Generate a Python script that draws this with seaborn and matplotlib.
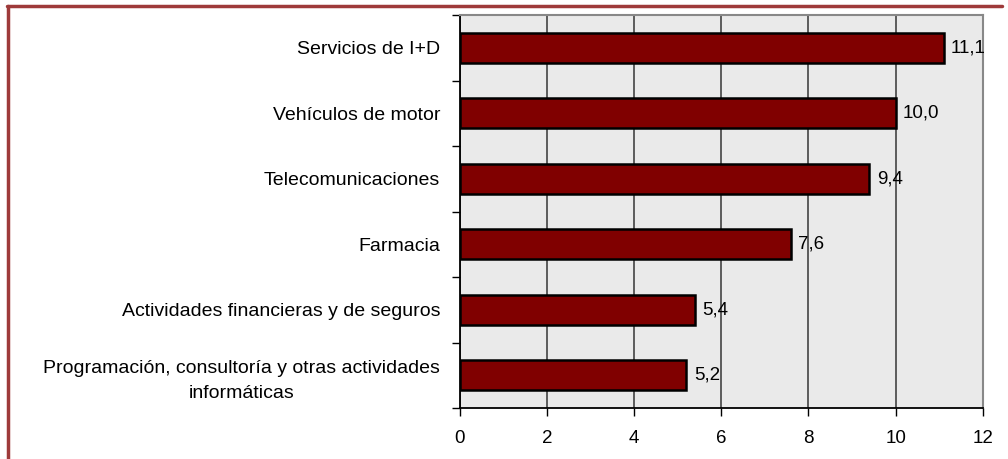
import matplotlib.pyplot as plt
import numpy as np
import pandas as pd
import seaborn as sns

sectores = ['Servicios de I+D',
            'Vehículos de motor',
            'Telecomunicaciones',
            'Farmacia',
            'Actividades financieras y de seguros',
            'Programación, consultoría y otras actividades\ninformáticas']
valores = [11.1, 10.0, 9.4, 7.6, 5.4, 5.2]
xticks = [0, 2, 4, 6, 8, 10, 12]

df = pd.DataFrame({'sector': sectores, 'valor': valores})

sns.set_theme(style='white')
plt.rcParams['font.family'] = ['Liberation Sans', 'DejaVu Sans']

fig = plt.figure(figsize=(10.08, 4.59), dpi=100)
ax = fig.add_axes([0.456, 0.111, 0.519, 0.856])
ax.set_facecolor('#eaeaea')

sns.barplot(data=df, x='valor', y='sector', orient='h', color='#800000',
            saturation=1, width=0.46, edgecolor='black', linewidth=1.8, ax=ax)

ax.set_xlim(0, 12)
ax.set_ylim(len(sectores) - 0.5, -0.5)
ax.set_xticks(xticks)
ax.set_xticklabels([str(t) for t in xticks], fontsize=13.5, color='black')
ax.grid(axis='x', color='#444444', linewidth=1.2)
ax.set_axisbelow(True)
ax.set_xlabel('')
ax.set_ylabel('')

# ticks on category boundaries, labels centred
ax.set_yticks(np.arange(len(sectores)))
ax.set_yticklabels(sectores, fontsize=14, color='black',
                   multialignment='center', linespacing=1.6)
ax.set_yticks(np.arange(len(sectores) + 1) - 0.5, minor=True)
ax.tick_params(axis='y', which='major', length=0, pad=14)
ax.tick_params(axis='y', which='minor', length=6, width=1, color='black', left=True)
ax.tick_params(axis='x', which='major', length=6, width=1, color='black', bottom=True, pad=10)

for side in ['left', 'bottom']:
    ax.spines[side].set_color('black')
    ax.spines[side].set_linewidth(1.3)
for side in ['top', 'right']:
    ax.spines[side].set_color('#888888')
    ax.spines[side].set_linewidth(1.5)

for i, v in enumerate(valores):
    ax.text(v + 0.17, i, f'{v:.1f}'.replace('.', ','), va='center', ha='left',
            fontsize=13.5, color='black')

# marco rojo del recuadro
fig.add_artist(plt.Line2D([0.007, 0.994], [0.987, 0.987], color='#9e3a3a', lw=2.5,
                          transform=fig.transFigure))
fig.add_artist(plt.Line2D([0.008, 0.008], [0.0, 0.987], color='#9e3a3a', lw=2.5,
                          transform=fig.transFigure))

fig.savefig('out.png', dpi=100, facecolor='white')
